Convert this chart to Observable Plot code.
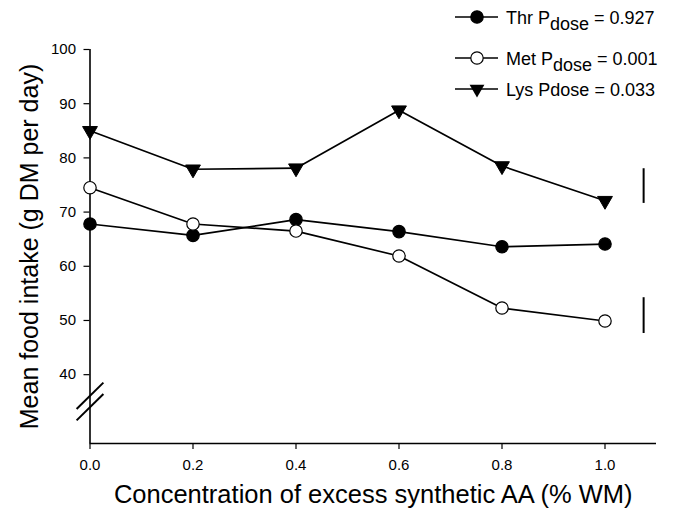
<!DOCTYPE html>
<html><head><meta charset="utf-8">
<script src="https://cdn.jsdelivr.net/npm/d3@7"></script>
<script src="https://cdn.jsdelivr.net/npm/@observablehq/plot@0.6"></script>
<style>
html,body{margin:0;padding:0;background:#fff;}
#chart{position:relative;width:677px;height:514px;}
</style></head><body><div id="chart"></div>
<script>
// ---- data ----
const doses = [0.0, 0.2, 0.4, 0.6, 0.8, 1.0];
const thr = [67.8, 65.7, 68.6, 66.4, 63.6, 64.1];
const met = [74.5, 67.8, 66.5, 61.9, 52.3, 49.9];
const lys = [85.0, 77.9, 78.1, 88.8, 78.5, 72.1];
const seriesNames = ["Thr", "Met", "Lys"];
const pValues = ["0.927", "0.001", "0.033"];
const yTicks = [40, 50, 60, 70, 80, 90, 100];
const xTicks = [0.0, 0.2, 0.4, 0.6, 0.8, 1.0];
const errX = [1.075, 1.075];
const errLow = [71.6, 47.6];
const errHigh = [78.0, 54.2];
const breakVals = [36.1, 34.0];
const yMin = 27.3, yMax = 100, xMax = 1.1;
const yTitle = "Mean food intake (g DM per day)";
const xTitle = "Concentration of excess synthetic AA (% WM)";

const rows = [];
[thr, met, lys].forEach((arr, i) => arr.forEach((v, j) => rows.push({series: seriesNames[i], x: doses[j], y: v})));
const errRows = errX.map((x, i) => ({x, y1: errLow[i], y2: errHigh[i]}));

const slash = {draw(ctx) { ctx.moveTo(-13.4, 13.2); ctx.lineTo(13.4, -13.2); }};

const font = "'Liberation Sans', Arial, Helvetica, sans-serif";
const chart = Plot.plot({
  width: 677, height: 514,
  marginLeft: 89.5, marginRight: 21, marginTop: 49, marginBottom: 71,
  style: {fontFamily: font, fontSize: "15px", background: "white", overflow: "visible"},
  x: {domain: [0, xMax]},
  y: {domain: [yMin, yMax]},
  marks: [
    Plot.ruleX([0], {y1: yMin, y2: yMax, stroke: "black", strokeWidth: 1.6}),
    Plot.ruleY([yMin], {x1: 0, x2: xMax, stroke: "black", strokeWidth: 1.6}),
    Plot.axisY(yTicks, {tickSize: 6, tickPadding: 8, fontSize: 15, label: null, stroke: "black", strokeWidth: 1.2, fill: "black"}),
    Plot.axisX(xTicks, {tickSize: 6, tickPadding: 10, fontSize: 15, tickFormat: d3.format(".1f"), label: null, stroke: "black", strokeWidth: 1.2, fill: "black"}),
    Plot.dot(breakVals, {x: () => 0, y: d => d, symbol: slash, stroke: "black", strokeWidth: 2, r: 10}),
    Plot.ruleX(errRows, {x: "x", y1: "y1", y2: "y2", stroke: "black", strokeWidth: 2}),
    Plot.line(rows, {x: "x", y: "y", z: "series", stroke: "black", strokeWidth: 1.7}),
    Plot.dot(rows.filter(d => d.series === "Thr"), {x: "x", y: "y", r: 6.2, fill: "black", stroke: "black", strokeWidth: 1.2}),
    Plot.dot(rows.filter(d => d.series === "Met"), {x: "x", y: "y", r: 6.2, fill: "white", stroke: "black", strokeWidth: 1.2}),
    Plot.dot(rows.filter(d => d.series === "Lys"), {x: "x", y: "y", symbol: "triangle", rotate: 180, r: 5.5, fill: "black", stroke: "black", strokeWidth: 1}),
    Plot.text([yTitle], {text: d => d, frameAnchor: "left", textAnchor: "middle", lineAnchor: "middle", rotate: -90, dx: -60, fontSize: 25, fill: "black"}),
    Plot.text([xTitle], {text: d => d, frameAnchor: "bottom", textAnchor: "middle", lineAnchor: "middle", dy: 51, fontSize: 25.5, fill: "black"})
  ]
});
document.getElementById("chart").appendChild(chart);

// ---- legend ----
const svg = d3.select(chart);
const lg = svg.append("g").attr("fill", "black");
const legY = [17, 58, 89];
const subscript = [true, true, false];
seriesNames.forEach((name, i) => {
  const y = legY[i];
  lg.append("line").attr("x1", 455).attr("x2", 498).attr("y1", y).attr("y2", y)
    .attr("stroke", "black").attr("stroke-width", 1.5);
  if (name === "Lys") {
    lg.append("path").attr("d", d3.symbol(d3.symbolTriangle, 5.5 * 5.5 * Math.PI)())
      .attr("transform", `translate(477,${y}) rotate(180)`).attr("fill", "black");
  } else {
    lg.append("circle").attr("cx", 477).attr("cy", y).attr("r", 6.2)
      .attr("fill", name === "Thr" ? "black" : "white").attr("stroke", "black").attr("stroke-width", 1.2);
  }
  const t = lg.append("text").attr("x", 506).attr("y", y + 7)
    .style("text-anchor", "start").style("font-size", "18px").style("font-family", font);
  if (subscript[i]) {
    t.append("tspan").text(`${name} P`);
    t.append("tspan").attr("dy", 6).text("dose");
    t.append("tspan").attr("dy", -6).text(` = ${pValues[i]}`);
  } else {
    t.text(`${name} Pdose = ${pValues[i]}`);
  }
});
</script></body></html>
